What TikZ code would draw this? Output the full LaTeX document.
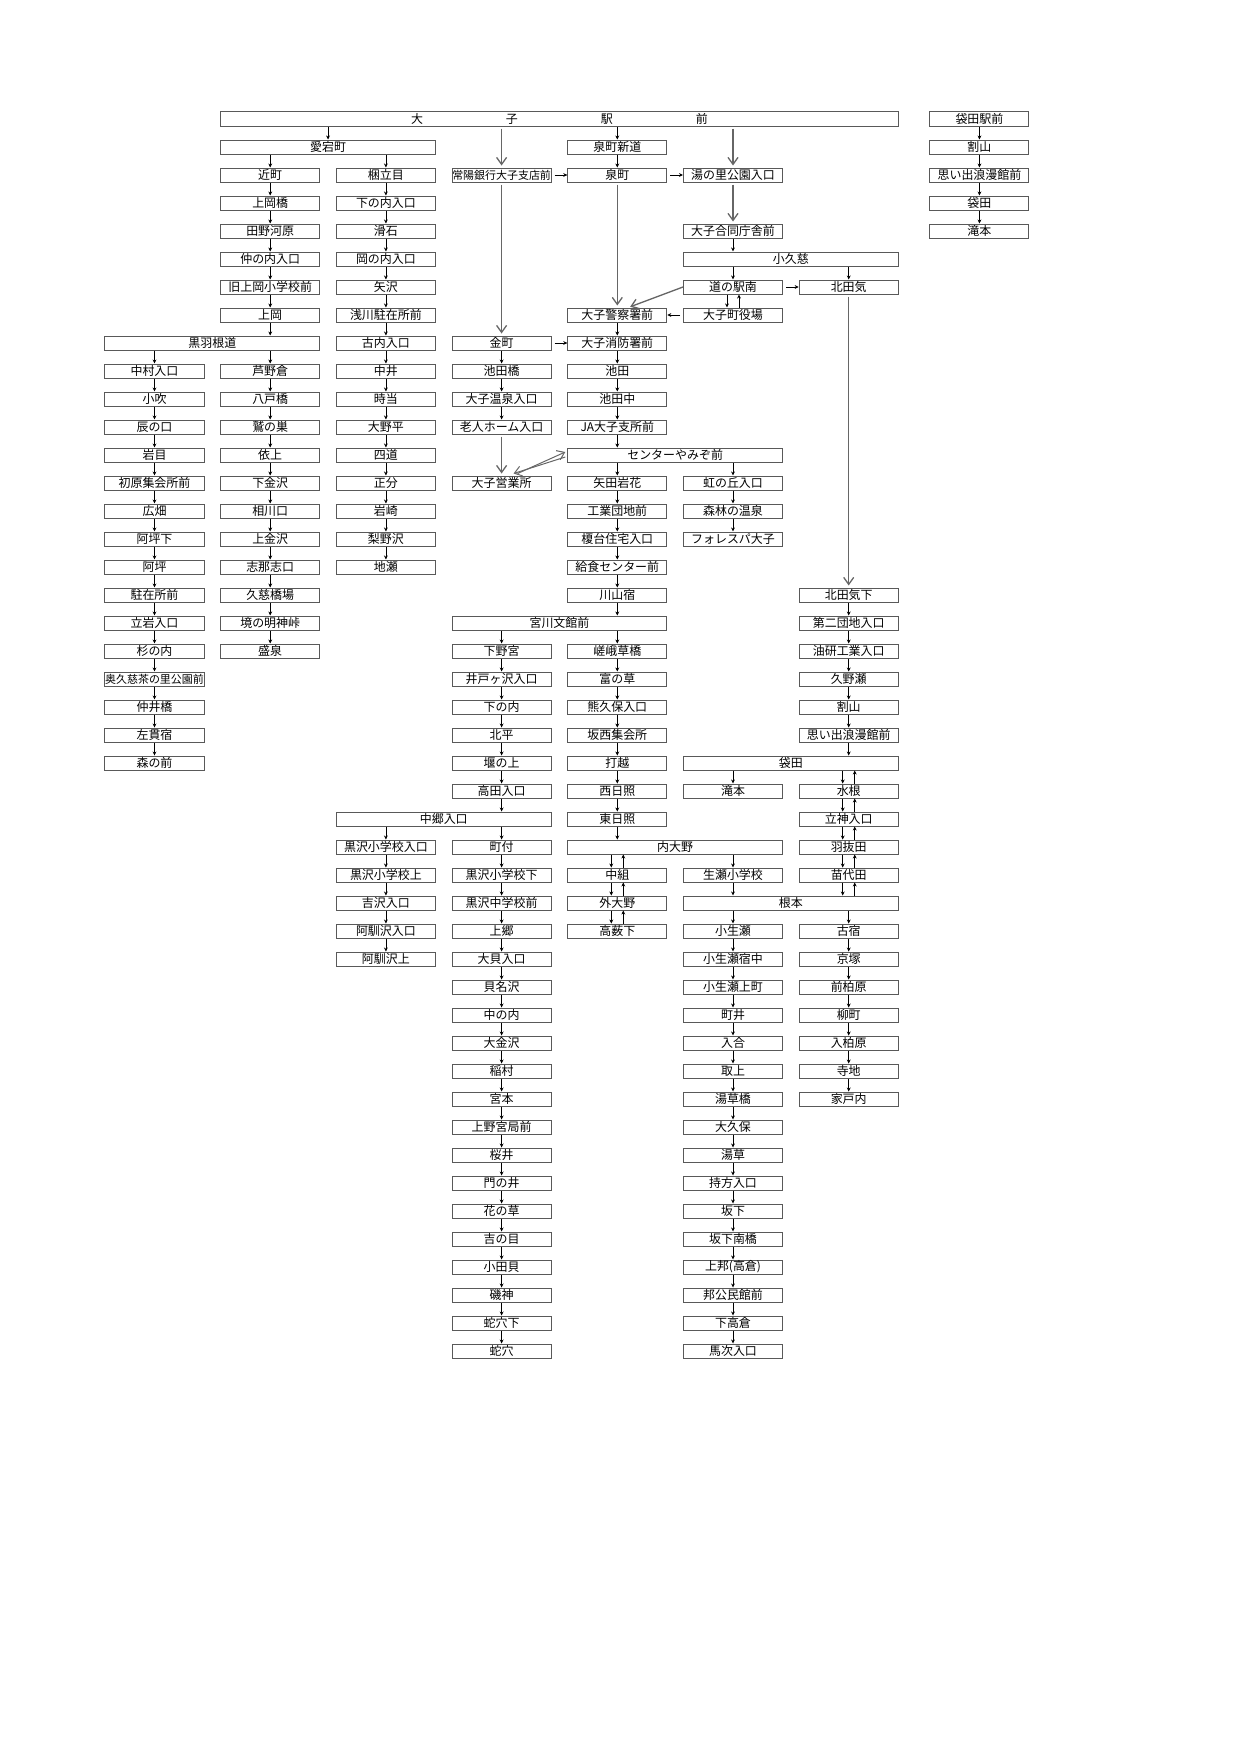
\documentclass[tikz,border=0pt]{standalone}
\usepackage{fontspec}
\setmainfont{Noto Sans CJK JP}
\usepackage{tikz}
\usetikzlibrary{arrows.meta,calc}

\tikzset{
  busstop/.style={draw=black!65,line width=1bp,fill=white,minimum width=99bp,
    minimum height=14bp,inner sep=0pt,font=\fontsize{12}{13}\selectfont},
  wstop/.style={busstop,minimum width=214.7bp},
  tight/.style={font=\fontsize{11}{12}\selectfont},
  sarrow/.style={-{Stealth[length=4bp,width=3.8bp]},line width=0.75bp,black},
  larrow/.style={-{Straight Barb[length=7bp,width=10bp]},line width=1.3bp,black!60,
    shorten <=2bp,shorten >=2bp},
}

\begin{document}
\begin{tikzpicture}[x=115.7bp,y=-28bp]
\useasboundingbox (-154.5bp,119bp) rectangle (1086.5bp,-1636bp);
%% stops
\node (b0) at (3.5,0) [busstop,minimum width=677.5bp] {大\hspace{83bp}子\hspace{83bp}駅\hspace{83bp}前};
\node (b1) at (1.5,1) [wstop] {愛宕町};
\node (e1) at (4,1) [busstop] {泉町新道};
\node (b2) at (1,2) [busstop] {近町};
\node (c2) at (2,2) [busstop] {梱立目};
\node (d2) at (3,2) [busstop,tight] {常陽銀行大子支店前};
\node (e2) at (4,2) [busstop] {泉町};
\node (f2) at (5,2) [busstop] {湯の里公園入口};
\node (b3) at (1,3) [busstop] {上岡橋};
\node (c3) at (2,3) [busstop] {下の内入口};
\node (b4) at (1,4) [busstop] {田野河原};
\node (c4) at (2,4) [busstop] {滑石};
\node (f4) at (5,4) [busstop] {大子合同庁舎前};
\node (b5) at (1,5) [busstop] {仲の内入口};
\node (c5) at (2,5) [busstop] {岡の内入口};
\node (f5) at (5.5,5) [wstop] {小久慈};
\node (b6) at (1,6) [busstop] {旧上岡小学校前};
\node (c6) at (2,6) [busstop] {矢沢};
\node (f6) at (5,6) [busstop] {道の駅南};
\node (g6) at (6,6) [busstop] {北田気};
\node (b7) at (1,7) [busstop] {上岡};
\node (c7) at (2,7) [busstop] {浅川駐在所前};
\node (e7) at (4,7) [busstop] {大子警察署前};
\node (f7) at (5,7) [busstop] {大子町役場};
\node (a8) at (0.5,8) [wstop] {黒羽根道};
\node (c8) at (2,8) [busstop] {古内入口};
\node (d8) at (3,8) [busstop] {金町};
\node (e8) at (4,8) [busstop] {大子消防署前};
\node (a9) at (0,9) [busstop] {中村入口};
\node (b9) at (1,9) [busstop] {芦野倉};
\node (c9) at (2,9) [busstop] {中井};
\node (d9) at (3,9) [busstop] {池田橋};
\node (e9) at (4,9) [busstop] {池田};
\node (a10) at (0,10) [busstop] {小吹};
\node (b10) at (1,10) [busstop] {八戸橋};
\node (c10) at (2,10) [busstop] {時当};
\node (d10) at (3,10) [busstop] {大子温泉入口};
\node (e10) at (4,10) [busstop] {池田中};
\node (a11) at (0,11) [busstop] {辰の口};
\node (b11) at (1,11) [busstop] {鷲の巣};
\node (c11) at (2,11) [busstop] {大野平};
\node (d11) at (3,11) [busstop] {老人ホーム入口};
\node (e11) at (4,11) [busstop] {JA大子支所前};
\node (a12) at (0,12) [busstop] {岩目};
\node (b12) at (1,12) [busstop] {依上};
\node (c12) at (2,12) [busstop] {四道};
\node (e12) at (4.5,12) [wstop] {センターやみぞ前};
\node (a13) at (0,13) [busstop] {初原集会所前};
\node (b13) at (1,13) [busstop] {下金沢};
\node (c13) at (2,13) [busstop] {正分};
\node (d13) at (3,13) [busstop] {大子営業所};
\node (e13) at (4,13) [busstop] {矢田岩花};
\node (f13) at (5,13) [busstop] {虹の丘入口};
\node (a14) at (0,14) [busstop] {広畑};
\node (b14) at (1,14) [busstop] {相川口};
\node (c14) at (2,14) [busstop] {岩崎};
\node (e14) at (4,14) [busstop] {工業団地前};
\node (f14) at (5,14) [busstop] {森林の温泉};
\node (a15) at (0,15) [busstop] {阿坪下};
\node (b15) at (1,15) [busstop] {上金沢};
\node (c15) at (2,15) [busstop] {梨野沢};
\node (e15) at (4,15) [busstop] {榎台住宅入口};
\node (f15) at (5,15) [busstop] {フォレスパ大子};
\node (a16) at (0,16) [busstop] {阿坪};
\node (b16) at (1,16) [busstop] {志那志口};
\node (c16) at (2,16) [busstop] {地瀬};
\node (e16) at (4,16) [busstop] {給食センター前};
\node (a17) at (0,17) [busstop] {駐在所前};
\node (b17) at (1,17) [busstop] {久慈橋場};
\node (e17) at (4,17) [busstop] {川山宿};
\node (g17) at (6,17) [busstop] {北田気下};
\node (a18) at (0,18) [busstop] {立岩入口};
\node (b18) at (1,18) [busstop] {境の明神峠};
\node (d18) at (3.5,18) [wstop] {宮川文館前};
\node (g18) at (6,18) [busstop] {第二団地入口};
\node (a19) at (0,19) [busstop] {杉の内};
\node (b19) at (1,19) [busstop] {盛泉};
\node (d19) at (3,19) [busstop] {下野宮};
\node (e19) at (4,19) [busstop] {嵯峨草橋};
\node (g19) at (6,19) [busstop] {油研工業入口};
\node (a20) at (0,20) [busstop,tight] {奥久慈茶の里公園前};
\node (d20) at (3,20) [busstop] {井戸ヶ沢入口};
\node (e20) at (4,20) [busstop] {富の草};
\node (g20) at (6,20) [busstop] {久野瀬};
\node (a21) at (0,21) [busstop] {仲井橋};
\node (d21) at (3,21) [busstop] {下の内};
\node (e21) at (4,21) [busstop] {熊久保入口};
\node (g21) at (6,21) [busstop] {割山};
\node (a22) at (0,22) [busstop] {左貫宿};
\node (d22) at (3,22) [busstop] {北平};
\node (e22) at (4,22) [busstop] {坂西集会所};
\node (g22) at (6,22) [busstop] {思い出浪漫館前};
\node (a23) at (0,23) [busstop] {森の前};
\node (d23) at (3,23) [busstop] {堰の上};
\node (e23) at (4,23) [busstop] {打越};
\node (f23) at (5.5,23) [wstop] {袋田};
\node (d24) at (3,24) [busstop] {高田入口};
\node (e24) at (4,24) [busstop] {西日照};
\node (f24) at (5,24) [busstop] {滝本};
\node (g24) at (6,24) [busstop] {水根};
\node (c25) at (2.5,25) [wstop] {中郷入口};
\node (e25) at (4,25) [busstop] {東日照};
\node (g25) at (6,25) [busstop] {立神入口};
\node (c26) at (2,26) [busstop] {黒沢小学校入口};
\node (d26) at (3,26) [busstop] {町付};
\node (e26) at (4.5,26) [wstop] {内大野};
\node (g26) at (6,26) [busstop] {羽抜田};
\node (c27) at (2,27) [busstop] {黒沢小学校上};
\node (d27) at (3,27) [busstop] {黒沢小学校下};
\node (e27) at (4,27) [busstop] {中組};
\node (f27) at (5,27) [busstop] {生瀬小学校};
\node (g27) at (6,27) [busstop] {苗代田};
\node (c28) at (2,28) [busstop] {吉沢入口};
\node (d28) at (3,28) [busstop] {黒沢中学校前};
\node (e28) at (4,28) [busstop] {外大野};
\node (f28) at (5.5,28) [wstop] {根本};
\node (c29) at (2,29) [busstop] {阿馴沢入口};
\node (d29) at (3,29) [busstop] {上郷};
\node (e29) at (4,29) [busstop] {高薮下};
\node (f29) at (5,29) [busstop] {小生瀬};
\node (g29) at (6,29) [busstop] {古宿};
\node (c30) at (2,30) [busstop] {阿馴沢上};
\node (d30) at (3,30) [busstop] {大貝入口};
\node (f30) at (5,30) [busstop] {小生瀬宿中};
\node (g30) at (6,30) [busstop] {京塚};
\node (d31) at (3,31) [busstop] {貝名沢};
\node (f31) at (5,31) [busstop] {小生瀬上町};
\node (g31) at (6,31) [busstop] {前柏原};
\node (d32) at (3,32) [busstop] {中の内};
\node (f32) at (5,32) [busstop] {町井};
\node (g32) at (6,32) [busstop] {柳町};
\node (d33) at (3,33) [busstop] {大金沢};
\node (f33) at (5,33) [busstop] {入合};
\node (g33) at (6,33) [busstop] {入柏原};
\node (d34) at (3,34) [busstop] {稲村};
\node (f34) at (5,34) [busstop] {取上};
\node (g34) at (6,34) [busstop] {寺地};
\node (d35) at (3,35) [busstop] {宮本};
\node (f35) at (5,35) [busstop] {湯草橋};
\node (g35) at (6,35) [busstop] {家戸内};
\node (d36) at (3,36) [busstop] {上野宮局前};
\node (f36) at (5,36) [busstop] {大久保};
\node (d37) at (3,37) [busstop] {桜井};
\node (f37) at (5,37) [busstop] {湯草};
\node (d38) at (3,38) [busstop] {門の井};
\node (f38) at (5,38) [busstop] {持方入口};
\node (d39) at (3,39) [busstop] {花の草};
\node (f39) at (5,39) [busstop] {坂下};
\node (d40) at (3,40) [busstop] {吉の目};
\node (f40) at (5,40) [busstop] {坂下南橋};
\node (d41) at (3,41) [busstop] {小田貝};
\node (f41) at (5,41) [busstop] {上邦(高倉)};
\node (d42) at (3,42) [busstop] {磯神};
\node (f42) at (5,42) [busstop] {邦公民館前};
\node (d43) at (3,43) [busstop] {蛇穴下};
\node (f43) at (5,43) [busstop] {下高倉};
\node (d44) at (3,44) [busstop] {蛇穴};
\node (f44) at (5,44) [busstop] {馬次入口};
%% Fukuroda line
\node (h0) at (7.13,0) [busstop] {袋田駅前};
\node (h1) at (7.13,1) [busstop] {割山};
\node (h2) at (7.13,2) [busstop] {思い出浪漫館前};
\node (h3) at (7.13,3) [busstop] {袋田};
\node (h4) at (7.13,4) [busstop] {滝本};
%% straight runs
\foreach \col/\from/\to in {b/2/6,c/2/15,a/9/22,b/9/18,d/8/10,e/7/10,e/13/16,f/13/14,
    g/17/21,d/19/23,e/19/24,c/26/29,d/26/43,f/29/43,g/29/34,h/0/3}{
  \foreach \i in {\from,...,\to}{
    \pgfmathtruncatemacro\j{\i+1}
    \draw[sarrow] (\col\i) -- (\col\j);
  }
}
%% branches
\draw[sarrow] (b1 |- b0.south) -- (b1);
\draw[sarrow] (e1 |- b0.south) -- (e1);
\draw[sarrow] (b2 |- b1.south) -- (b2);
\draw[sarrow] (c2 |- b1.south) -- (c2);
\draw[sarrow] (e1) -- (e2);
\draw[sarrow] (b7) -- (b7 |- a8.north);
\draw[sarrow] (f4) -- (f4 |- f5.north);
\draw[sarrow] (f6 |- f5.south) -- (f6);
\draw[sarrow] (g6 |- f5.south) -- (g6);
\draw[sarrow] (a9 |- a8.south) -- (a9);
\draw[sarrow] (b9 |- a8.south) -- (b9);
\draw[sarrow] (e11) -- (e11 |- e12.north);
\draw[sarrow] (e13 |- e12.south) -- (e13);
\draw[sarrow] (f13 |- e12.south) -- (f13);
\draw[sarrow] (e17) -- (e17 |- d18.north);
\draw[sarrow] (d19 |- d18.south) -- (d19);
\draw[sarrow] (e19 |- d18.south) -- (e19);
\draw[sarrow] (g22) -- (g22 |- f23.north);
\draw[sarrow] (f24 |- f23.south) -- (f24);
\draw[sarrow] (d24) -- (d24 |- c25.north);
\draw[sarrow] (c26 |- c25.south) -- (c26);
\draw[sarrow] (d26 |- c25.south) -- (d26);
\draw[sarrow] (e25) -- (e25 |- e26.north);
\draw[sarrow] (f27 |- e26.south) -- (f27);
\draw[sarrow] (f27) -- (f27 |- f28.north);
\draw[sarrow] (f29 |- f28.south) -- (f29);
\draw[sarrow] (g29 |- f28.south) -- (g29);
%% sideways
\draw[sarrow,shorten <=3bp] (d2) -- (e2);
\draw[sarrow,shorten <=3bp] (e2) -- (f2);
\draw[sarrow,shorten <=3bp] (f6) -- (g6);
\draw[sarrow,shorten <=3bp] (f7) -- (e7);
\draw[sarrow,shorten <=3bp] (d8) -- (e8);
%% both ways
\foreach \u/\l in {f6/f7,f23/g24,g24/g25,g25/g26,g26/g27,e26/e27,e27/e28,e28/e29}{
  \draw[sarrow] ($(\l.north |- \u.south)+(-6bp,0)$) -- ($(\l.north)+(-6bp,0)$);
  \draw[sarrow] ($(\l.north)+(6bp,0)$) -- ($(\l.north |- \u.south)+(6bp,0)$);
}
\draw[sarrow] ($(g27.south)+(-6bp,0)$) -- ($(g27 |- f28.north)+(-6bp,0)$);
\draw[sarrow] ($(g27 |- f28.north)+(6bp,0)$) -- ($(g27.south)+(6bp,0)$);
%% long links
\draw[larrow] (d2 |- b0.south) -- (d2);
\draw[larrow] (f2 |- b0.south) -- (f2);
\draw[larrow] (d2) -- (d8);
\draw[larrow] (e2) -- (e7);
\draw[larrow] (f2) -- (f4);
\draw[larrow] (g6) -- (g17);
\draw[larrow] (d11) -- (d13);
\draw[larrow,shorten <=0pt] (f6.west) -- ($(e7.north)+(11bp,0)$);
\draw[larrow,shorten <=0pt,shorten >=0pt,line width=1bp] ($(d13.north)+(16bp,2bp)$) -- ($(e12.west)+(-2bp,3bp)$);
\draw[larrow,shorten <=0pt,shorten >=0pt,line width=1bp] ($(e12.west)+(-2bp,-2bp)$) -- ($(d13.north)+(12bp,2bp)$);
%
\end{tikzpicture}
\end{document}
